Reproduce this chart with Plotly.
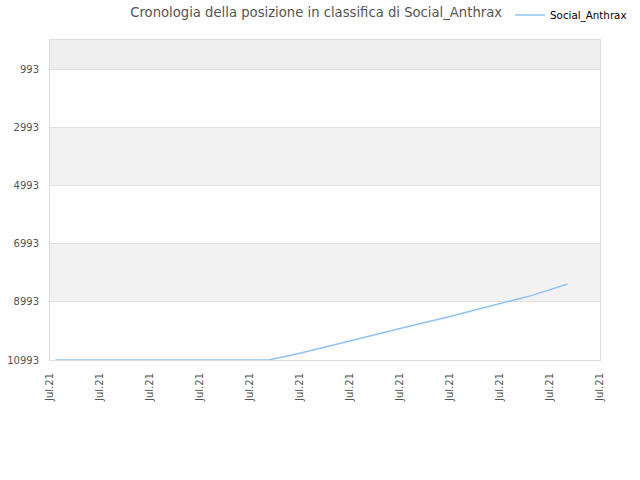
import plotly.graph_objects as go

# Ranking history (lower number = better position)
dates = [
    "2021-07-01 02:30", "2021-07-02 02:30", "2021-07-03 02:30", "2021-07-04 02:30",
    "2021-07-05 09:00", "2021-07-06 00:00", "2021-07-07 00:00", "2021-07-08 00:00",
    "2021-07-09 00:00", "2021-07-10 00:00", "2021-07-10 15:00", "2021-07-11 08:30",
]
positions = [10993, 10993, 10993, 10993, 10993, 10760, 10330, 9910, 9500, 9070, 8780, 8381]

y_ticks = [993, 2993, 4993, 6993, 8993, 10993]
series_name = "Social_Anthrax"

fig = go.Figure()
fig.add_trace(go.Scatter(
    x=dates, y=positions, mode="lines", name=series_name,
    line=dict(color="#90c3f3", width=1.5),
))

# alternating bands behind the grid
bands = [(-7, 993, "#eeeeee"), (2993, 4993, "#f2f2f2"), (6993, 8993, "#f2f2f2")]
for y0, y1, col in bands:
    fig.add_shape(type="rect", xref="paper", yref="y", x0=0, x1=1, y0=y0, y1=y1,
                  fillcolor=col, line_width=0, layer="below")

fig.update_layout(
    width=640, height=480,
    margin=dict(l=50, r=40, t=40, b=120, autoexpand=False),
    paper_bgcolor="white", plot_bgcolor="white",
    font=dict(family="DejaVu Sans", size=10, color="#555555"),
    title=dict(text="Cronologia della posizione in classifica di Social_Anthrax",
               x=0.494, xanchor="center", y=0.975, yanchor="middle",
               font=dict(size=13.2, color="#555555")),
    showlegend=True,
    legend=dict(xref="container", yref="container", x=0.797, y=0.969,
                xanchor="left", yanchor="middle", itemwidth=30,
                font=dict(size=10.3, color="#000000"), bgcolor="rgba(0,0,0,0)"),
    xaxis=dict(
        type="date", range=["2021-07-01", "2021-07-12"],
        dtick=86400000, tick0="2021-07-01", tickformat="%b.%y",
        tickangle=-90, showgrid=False, zeroline=False, automargin=False,
        ticklabelstandoff=8,
        showline=True, linecolor="#dddddd", mirror=True, ticks="",
    ),
    yaxis=dict(
        range=[10993, -7], tickvals=y_ticks, ticktext=[str(v) for v in y_ticks],
        gridcolor="#e0e0e0", zeroline=False, automargin=False,
        ticklabelstandoff=8,
        showline=True, linecolor="#dddddd", mirror=True, ticks="",
    ),
)

# drop the default 8px body margin so the figure fills the window
fig.write_html("out.html", config={"displayModeBar": False},
               post_script="document.body.style.margin='0';")
